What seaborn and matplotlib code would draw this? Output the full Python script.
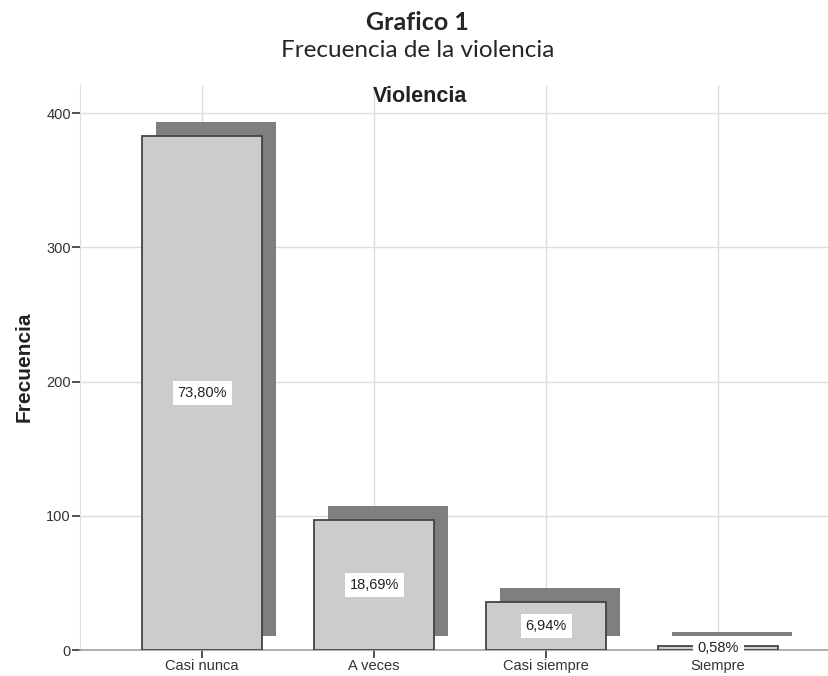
import numpy as np
import pandas as pd
import matplotlib
matplotlib.use("Agg")
import matplotlib.pyplot as plt
import seaborn as sns

# Data
categorias = ["Casi nunca", "A veces", "Casi siempre", "Siempre"]
frecuencias = [383, 97, 36, 3]
porcentajes = [73.80, 18.69, 6.94, 0.58]

df = pd.DataFrame({"categoria": categorias, "frecuencia": frecuencias})

sns.set_style("white")
plt.rcParams["font.family"] = ["Liberation Sans", "DejaVu Sans"]

W, H = 829, 676
fig = plt.figure(figsize=(W / 100, H / 100), dpi=100)
# axes: left 80px, right 829px, top 85px, bottom (zero line) 650px
ax = fig.add_axes([80 / W, 26 / H, 1 - 80 / W, (650 - 85) / H])

# shadow offset (SPSS pseudo-3D look)
dx, dy = 0.082, 10.4
pos = np.arange(len(categorias))
ax.bar(pos + dx, frecuencias, bottom=dy, width=0.70, color="#7f7f7f",
       edgecolor="none", zorder=2)

sns.barplot(data=df, x="categoria", y="frecuencia", color="#cccccc",
            saturation=1, edgecolor="#444444", linewidth=1.3, width=0.70,
            ax=ax, zorder=3)

for i, (c, p) in enumerate(zip(frecuencias, porcentajes)):
    ax.text(i, c / 2, f"{p:.2f}%".replace(".", ","), ha="center", va="center",
            fontsize=10.5, color="#222222", zorder=5,
            bbox=dict(facecolor="white", edgecolor="none", pad=3.5))

ax.set_xlim(-0.71, 3.645)
ax.set_ylim(0, 421)
ax.set_yticks([0, 100, 200, 300, 400])
ax.set_axisbelow(True)
ax.grid(True, color="#dddddd", linewidth=1.0, zorder=0)

for s in ["top", "right"]:
    ax.spines[s].set_visible(False)
ax.spines["left"].set_color("#dddddd")
ax.spines["bottom"].set_color("#a0a0a0")
ax.spines["bottom"].set_linewidth(1.2)

ax.tick_params(axis="both", direction="out", length=5.5, width=1.2,
               color="#333333", labelsize=10.5, labelcolor="#333333", pad=1,
               left=True, bottom=True)
ax.set_xlabel("")
ax.set_ylabel("")
fig.text(24 / W, 1 - 367 / H, "Frecuencia", rotation=90, ha="center",
         va="center", fontsize=15, fontweight="bold", color="#222222")

fig.text(420 / W, 1 - 97 / H, "Violencia", ha="center", va="center",
         fontsize=15.5, fontweight="bold", color="#222222")

fig.text(0.504, 1 - 30 / H, "Grafico 1", ha="center", va="baseline",
         fontsize=18, fontweight="bold", family=["Lato", "DejaVu Sans"])
fig.text(0.504, 1 - 57 / H, "Frecuencia de la violencia", ha="center",
         va="baseline", fontsize=17.5, family=["Lato", "DejaVu Sans"])

fig.savefig("out.png", dpi=100)
